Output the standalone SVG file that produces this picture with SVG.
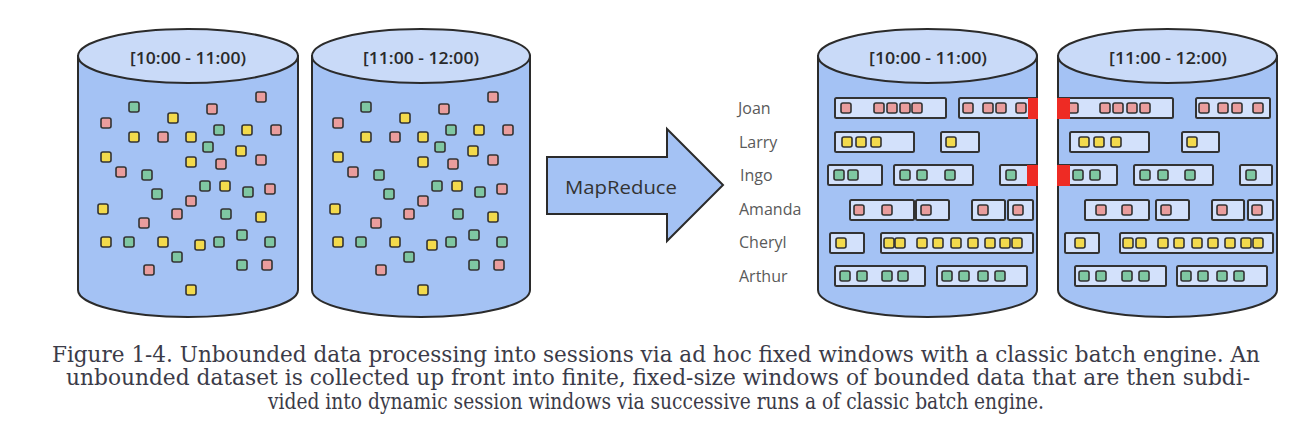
<svg xmlns="http://www.w3.org/2000/svg" xmlns:xlink="http://www.w3.org/1999/xlink" width="1310" height="432" viewBox="0 0 1310 432">
<style>
.side{fill:#a4c2f4;stroke:#2b2b2b;stroke-width:2}
.top{fill:#c9daf8;stroke:#2b2b2b;stroke-width:2}
.ttl{font-family:"Open Sans","Liberation Sans",sans-serif;font-weight:600;font-size:16.5px;fill:#2a2a2a;text-anchor:middle}
.lbl{font-family:"Open Sans","Liberation Sans",sans-serif;font-size:16px;fill:#5a5a5a}
.bar{fill:#d3e1fb;stroke:#333;stroke-width:2}
.r{fill:#ea9d9d;stroke:#333;stroke-width:1.6}
.g{fill:#7fc7a2;stroke:#333;stroke-width:1.6}
.y{fill:#f3da4c;stroke:#333;stroke-width:1.6}
.mk{fill:#ee2b24}
.arrow{fill:#a4c2f4;stroke:#2b2b2b;stroke-width:2;stroke-linejoin:miter}
.mr{font-family:"Open Sans","Liberation Sans",sans-serif;font-size:18.5px;fill:#333;text-anchor:middle}
.cap{font-family:"DejaVu Serif","Liberation Serif",serif;font-size:22px;fill:#3b3b48;text-anchor:middle}
</style>
<defs>
<rect id="dr" class="r" x="-5" y="-5" width="10" height="10" rx="2"/>
<rect id="dg" class="g" x="-5" y="-5" width="10" height="10" rx="2"/>
<rect id="dy" class="y" x="-5" y="-5" width="10" height="10" rx="2"/>
<g id="scatter">
<use href="#dr" x="261" y="97"/><use href="#dg" x="134" y="107"/><use href="#dr" x="212" y="109"/><use href="#dy" x="173" y="118"/>
<use href="#dr" x="106" y="123"/><use href="#dg" x="219" y="130"/><use href="#dy" x="247" y="130"/><use href="#dr" x="276" y="130"/>
<use href="#dy" x="134" y="137"/><use href="#dr" x="163" y="137"/><use href="#dy" x="191" y="137"/><use href="#dg" x="208" y="147"/>
<use href="#dy" x="241" y="151"/><use href="#dy" x="106" y="157"/><use href="#dy" x="191" y="162"/><use href="#dr" x="221" y="164"/>
<use href="#dr" x="261" y="160"/><use href="#dr" x="121" y="172"/><use href="#dg" x="147" y="175"/><use href="#dg" x="205" y="186"/>
<use href="#dy" x="225" y="186"/><use href="#dg" x="248" y="192"/><use href="#dr" x="270" y="189"/><use href="#dg" x="157" y="194"/>
<use href="#dr" x="191" y="201"/><use href="#dy" x="103" y="209"/><use href="#dr" x="177" y="214"/><use href="#dg" x="226" y="214"/>
<use href="#dy" x="261" y="217"/><use href="#dr" x="144" y="223"/><use href="#dy" x="106" y="242"/><use href="#dg" x="129" y="242"/>
<use href="#dy" x="163" y="242"/><use href="#dy" x="200" y="245"/><use href="#dg" x="219" y="242"/><use href="#dg" x="242" y="235"/>
<use href="#dg" x="270" y="242"/><use href="#dg" x="177" y="257"/><use href="#dr" x="149" y="270"/><use href="#dg" x="242" y="265"/>
<use href="#dr" x="267" y="265"/><use href="#dy" x="191" y="290"/>
</g>
</defs>
<rect width="1310" height="432" fill="#ffffff"/>

<g id="cyl-in-1">
<path class="side" d="M78,56 V290 A110,27 0 0 0 298,290 V56 Z"/>
<ellipse class="top" cx="188" cy="56" rx="110" ry="27"/>
<text class="ttl" x="188" y="64" textLength="116" lengthAdjust="spacingAndGlyphs">[10:00 - 11:00)</text>
<use href="#scatter"/>
</g>

<g id="cyl-in-2">
<path class="side" d="M312,56 V290 A109,27 0 0 0 530,290 V56 Z"/>
<ellipse class="top" cx="421" cy="56" rx="109" ry="27"/>
<text class="ttl" x="421" y="64" textLength="116" lengthAdjust="spacingAndGlyphs">[11:00 - 12:00)</text>
<use href="#scatter" x="232"/>
</g>

<g id="connectors">
<g id="mapreduce">
<path class="arrow" d="M547,157 H667 V129 L723,185 L667,241 V214 H547 Z"/>
<text class="mr" x="621" y="194" textLength="112" lengthAdjust="spacingAndGlyphs">MapReduce</text>
</g>
</g>

<g id="labels">
<text class="lbl" x="738" y="114">Joan</text>
<text class="lbl" x="739" y="148">Larry</text>
<text class="lbl" x="740" y="181">Ingo</text>
<text class="lbl" x="739" y="215">Amanda</text>
<text class="lbl" x="739" y="248">Cheryl</text>
<text class="lbl" x="739" y="282">Arthur</text>
</g>

<g id="cyl-out-1">
<path class="side" d="M818,56 V290 A109.5,27 0 0 0 1037,290 V56 Z"/>
<ellipse class="top" cx="927.5" cy="56" rx="109.5" ry="27"/>
<text class="ttl" x="928" y="64" textLength="118" lengthAdjust="spacingAndGlyphs">[10:00 - 11:00)</text>
<!-- Joan -->
<rect class="bar" x="835" y="98" width="111" height="20" rx="1.5"/>
<rect class="bar" x="959" y="98" width="78" height="20" rx="1.5"/>
<use href="#dr" x="846" y="108"/><use href="#dr" x="879" y="108"/><use href="#dr" x="892" y="108"/><use href="#dr" x="905" y="108"/><use href="#dr" x="917" y="108"/>
<use href="#dr" x="968" y="108"/><use href="#dr" x="988" y="108"/><use href="#dr" x="1001" y="108"/><use href="#dr" x="1021" y="108"/>
<rect class="mk" x="1028" y="98" width="10" height="21"/>
<!-- Larry -->
<rect class="bar" x="835" y="132" width="79" height="20" rx="1.5"/>
<rect class="bar" x="941" y="132" width="38" height="20" rx="1.5"/>
<use href="#dy" x="847" y="142"/><use href="#dy" x="861" y="142"/><use href="#dy" x="876" y="142"/><use href="#dy" x="951" y="142"/>
<!-- Ingo -->
<rect class="bar" x="828" y="165" width="54" height="20" rx="1.5"/>
<rect class="bar" x="894" y="165" width="79" height="20" rx="1.5"/>
<rect class="bar" x="1000" y="165" width="37" height="20" rx="1.5"/>
<use href="#dg" x="839" y="175"/><use href="#dg" x="853" y="175"/>
<use href="#dg" x="905" y="175"/><use href="#dg" x="922" y="175"/><use href="#dg" x="950" y="175"/>
<use href="#dg" x="1011" y="175"/>
<rect class="mk" x="1027" y="165" width="11" height="21"/>
<!-- Amanda -->
<rect class="bar" x="850" y="200" width="64" height="20" rx="1.5"/>
<rect class="bar" x="916" y="200" width="33" height="20" rx="1.5"/>
<rect class="bar" x="972" y="200" width="33" height="20" rx="1.5"/>
<rect class="bar" x="1008" y="200" width="25" height="20" rx="1.5"/>
<use href="#dr" x="859" y="210"/><use href="#dr" x="887" y="210"/><use href="#dr" x="926" y="210"/><use href="#dr" x="983" y="210"/><use href="#dr" x="1018" y="210"/>
<!-- Cheryl -->
<rect class="bar" x="830" y="233" width="34" height="20" rx="1.5"/>
<rect class="bar" x="881" y="233" width="152" height="20" rx="1.5"/>
<use href="#dy" x="841" y="243"/>
<use href="#dy" x="889" y="243"/><use href="#dy" x="900" y="243"/><use href="#dy" x="922" y="243"/><use href="#dy" x="938" y="243"/><use href="#dy" x="956" y="243"/><use href="#dy" x="973" y="243"/><use href="#dy" x="990" y="243"/><use href="#dy" x="1005" y="243"/><use href="#dy" x="1017" y="243"/>
<!-- Arthur -->
<rect class="bar" x="835" y="266" width="90" height="20" rx="1.5"/>
<rect class="bar" x="937" y="266" width="90" height="20" rx="1.5"/>
<use href="#dg" x="845" y="276"/><use href="#dg" x="862" y="276"/><use href="#dg" x="887" y="276"/><use href="#dg" x="903" y="276"/>
<use href="#dg" x="947" y="276"/><use href="#dg" x="964" y="276"/><use href="#dg" x="983" y="276"/><use href="#dg" x="1000" y="276"/>
</g>

<g id="cyl-out-2">
<path class="side" d="M1058,56 V290 A109.5,27 0 0 0 1277,290 V56 Z"/>
<ellipse class="top" cx="1167.5" cy="56" rx="109.5" ry="27"/>
<text class="ttl" x="1168" y="64" textLength="118" lengthAdjust="spacingAndGlyphs">[11:00 - 12:00)</text>
<!-- Joan -->
<rect class="bar" x="1058" y="98" width="115" height="20" rx="1.5"/>
<rect class="bar" x="1196" y="98" width="74" height="20" rx="1.5"/>
<use href="#dr" x="1073" y="108"/><use href="#dr" x="1105" y="108"/><use href="#dr" x="1118" y="108"/><use href="#dr" x="1132" y="108"/><use href="#dr" x="1145" y="108"/>
<use href="#dr" x="1204" y="108"/><use href="#dr" x="1223" y="108"/><use href="#dr" x="1237" y="108"/><use href="#dr" x="1258" y="108"/>
<rect class="mk" x="1057" y="98" width="13" height="21"/>
<!-- Larry -->
<rect class="bar" x="1070" y="132" width="79" height="20" rx="1.5"/>
<rect class="bar" x="1182" y="132" width="37" height="20" rx="1.5"/>
<use href="#dy" x="1084" y="142"/><use href="#dy" x="1099" y="142"/><use href="#dy" x="1116" y="142"/><use href="#dy" x="1192" y="142"/>
<!-- Ingo -->
<rect class="bar" x="1058" y="165" width="59" height="20" rx="1.5"/>
<rect class="bar" x="1134" y="165" width="79" height="20" rx="1.5"/>
<rect class="bar" x="1240" y="165" width="32" height="20" rx="1.5"/>
<use href="#dg" x="1078" y="175"/><use href="#dg" x="1095" y="175"/>
<use href="#dg" x="1145" y="175"/><use href="#dg" x="1163" y="175"/><use href="#dg" x="1190" y="175"/>
<use href="#dg" x="1251" y="175"/>
<rect class="mk" x="1057" y="165" width="13" height="21"/>
<!-- Amanda -->
<rect class="bar" x="1085" y="200" width="64" height="20" rx="1.5"/>
<rect class="bar" x="1156" y="200" width="33" height="20" rx="1.5"/>
<rect class="bar" x="1212" y="200" width="32" height="20" rx="1.5"/>
<rect class="bar" x="1248" y="200" width="25" height="20" rx="1.5"/>
<use href="#dr" x="1101" y="210"/><use href="#dr" x="1127" y="210"/><use href="#dr" x="1166" y="210"/><use href="#dr" x="1222" y="210"/><use href="#dr" x="1257" y="210"/>
<!-- Cheryl -->
<rect class="bar" x="1065" y="233" width="34" height="20" rx="1.5"/>
<rect class="bar" x="1120" y="233" width="153" height="20" rx="1.5"/>
<use href="#dy" x="1080" y="243"/>
<use href="#dy" x="1128" y="243"/><use href="#dy" x="1141" y="243"/><use href="#dy" x="1163" y="243"/><use href="#dy" x="1179" y="243"/><use href="#dy" x="1197" y="243"/><use href="#dy" x="1213" y="243"/><use href="#dy" x="1230" y="243"/><use href="#dy" x="1246" y="243"/><use href="#dy" x="1258" y="243"/>
<!-- Arthur -->
<rect class="bar" x="1075" y="266" width="91" height="20" rx="1.5"/>
<rect class="bar" x="1177" y="266" width="90" height="20" rx="1.5"/>
<use href="#dg" x="1084" y="276"/><use href="#dg" x="1101" y="276"/><use href="#dg" x="1127" y="276"/><use href="#dg" x="1144" y="276"/>
<use href="#dg" x="1186" y="276"/><use href="#dg" x="1203" y="276"/><use href="#dg" x="1222" y="276"/><use href="#dg" x="1239" y="276"/>
</g>

<g id="caption">
<text class="cap" x="656" y="361.5" textLength="1208" lengthAdjust="spacingAndGlyphs">Figure 1-4. Unbounded data processing into sessions via ad hoc fixed windows with a classic batch engine. An</text>
<text class="cap" x="658" y="385" textLength="1184" lengthAdjust="spacingAndGlyphs">unbounded dataset is collected up front into finite, fixed-size windows of bounded data that are then subdi-</text>
<text class="cap" x="656" y="408.5" textLength="776" lengthAdjust="spacingAndGlyphs">vided into dynamic session windows via successive runs a of classic batch engine.</text>
</g>
</svg>
